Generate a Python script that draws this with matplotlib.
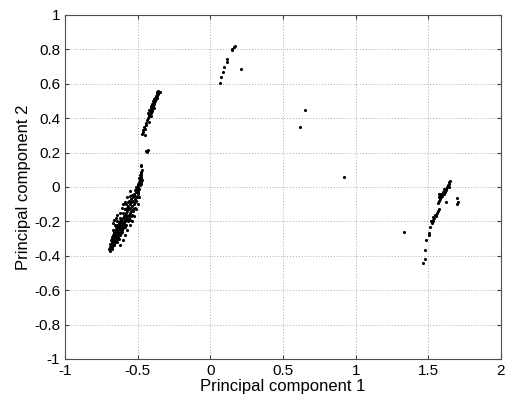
import matplotlib
matplotlib.use("Agg")
import matplotlib.pyplot as plt
import numpy as np

# ---- data ----
cluster_left_low = [
    (-0.69, -0.37), (-0.695, -0.36), (-0.68, -0.36), (-0.69, -0.35), (-0.675, -0.35),
    (-0.685, -0.34), (-0.67, -0.34), (-0.66, -0.34), (-0.69, -0.33), (-0.675, -0.33),
    (-0.665, -0.33), (-0.68, -0.32), (-0.67, -0.32), (-0.655, -0.32), (-0.645, -0.32),
    (-0.685, -0.31), (-0.665, -0.31), (-0.65, -0.31), (-0.675, -0.30), (-0.66, -0.30),
    (-0.64, -0.30), (-0.63, -0.30), (-0.68, -0.29), (-0.665, -0.29), (-0.65, -0.29),
    (-0.635, -0.29), (-0.67, -0.28), (-0.655, -0.28), (-0.64, -0.28), (-0.62, -0.28),
    (-0.66, -0.27), (-0.645, -0.27), (-0.63, -0.27), (-0.615, -0.27), (-0.665, -0.26),
    (-0.65, -0.26), (-0.635, -0.26), (-0.62, -0.26), (-0.605, -0.26), (-0.655, -0.25),
    (-0.64, -0.25), (-0.625, -0.25), (-0.61, -0.25), (-0.645, -0.24), (-0.63, -0.24),
    (-0.615, -0.24), (-0.60, -0.24), (-0.65, -0.23), (-0.635, -0.23), (-0.62, -0.23),
    (-0.605, -0.23), (-0.59, -0.23), (-0.64, -0.22), (-0.625, -0.22), (-0.60, -0.22),
    (-0.58, -0.22), (-0.63, -0.21), (-0.61, -0.21), (-0.595, -0.21), (-0.625, -0.20),
    (-0.605, -0.20), (-0.585, -0.20), (-0.565, -0.20), (-0.615, -0.19), (-0.59, -0.19),
    (-0.57, -0.19), (-0.55, -0.19), (-0.60, -0.18), (-0.58, -0.18), (-0.56, -0.18),
    (-0.595, -0.17), (-0.575, -0.17), (-0.545, -0.17), (-0.585, -0.16), (-0.56, -0.16),
    (-0.54, -0.16), (-0.58, -0.15), (-0.555, -0.15), (-0.57, -0.14), (-0.545, -0.14),
    (-0.53, -0.14), (-0.59, -0.13), (-0.56, -0.13), (-0.535, -0.13), (-0.575, -0.12),
    (-0.55, -0.12), (-0.52, -0.12), (-0.565, -0.11), (-0.54, -0.11), (-0.58, -0.10),
    (-0.555, -0.10), (-0.525, -0.10), (-0.545, -0.09), (-0.515, -0.09), (-0.56, -0.08),
    (-0.535, -0.08), (-0.51, -0.08), (-0.545, -0.07), (-0.52, -0.07), (-0.53, -0.06),
    (-0.505, -0.06), (-0.555, -0.05), (-0.515, -0.05), (-0.525, -0.04), (-0.50, -0.04),
    (-0.51, -0.03), (-0.495, -0.03), (-0.52, -0.02), (-0.50, -0.02), (-0.505, -0.01),
    (-0.49, -0.01), (-0.51, 0.00), (-0.495, 0.00), (-0.50, 0.01), (-0.485, 0.01),
    (-0.495, 0.02), (-0.48, 0.02), (-0.49, 0.03), (-0.475, 0.03), (-0.485, 0.04),
    (-0.47, 0.04), (-0.49, 0.05), (-0.475, 0.05), (-0.48, 0.06), (-0.475, 0.07),
    (-0.485, 0.07), (-0.48, 0.08), (-0.475, 0.09), (-0.47, 0.10), (-0.48, 0.12),
    (-0.475, 0.13),
    (-0.67, -0.21), (-0.66, -0.19), (-0.65, -0.18), (-0.64, -0.16), (-0.625, -0.15),
    (-0.61, -0.12), (-0.60, -0.10), (-0.585, -0.085), (-0.57, -0.06), (-0.555, -0.025),
    (-0.54, -0.20), (-0.55, -0.22), (-0.57, -0.25), (-0.585, -0.28), (-0.60, -0.31),
    (-0.62, -0.335), (-0.525, -0.17), (-0.51, -0.13), (-0.50, -0.10), (-0.49, -0.06),
    (-0.62, -0.18), (-0.60, -0.15), (-0.585, -0.13), (-0.565, -0.09), (-0.54, -0.045),
    (-0.67, -0.25), (-0.655, -0.22), (-0.645, -0.20),
]

cluster_left_high = [
    (-0.47, 0.31), (-0.465, 0.33), (-0.46, 0.32), (-0.455, 0.35), (-0.45, 0.34),
    (-0.445, 0.37), (-0.44, 0.36), (-0.435, 0.39), (-0.43, 0.40), (-0.425, 0.41),
    (-0.43, 0.43), (-0.42, 0.42), (-0.415, 0.44), (-0.42, 0.45), (-0.41, 0.43),
    (-0.405, 0.46), (-0.41, 0.47), (-0.40, 0.45), (-0.40, 0.48), (-0.395, 0.47),
    (-0.39, 0.49), (-0.395, 0.50), (-0.385, 0.48), (-0.385, 0.51), (-0.38, 0.50),
    (-0.38, 0.52), (-0.375, 0.51), (-0.375, 0.53), (-0.37, 0.52), (-0.37, 0.54),
    (-0.365, 0.53), (-0.365, 0.55), (-0.36, 0.56), (-0.355, 0.55), (-0.36, 0.54),
    (-0.347, 0.55), (-0.39, 0.46), (-0.40, 0.44), (-0.41, 0.41), (-0.42, 0.38),
    (-0.45, 0.30), (-0.44, 0.21), (-0.435, 0.205), (-0.43, 0.215),
]

cluster_middle = [
    (0.172, 0.822), (0.162, 0.816), (0.151, 0.800), (0.147, 0.797), (0.114, 0.742),
    (0.117, 0.729), (0.094, 0.696), (0.089, 0.670), (0.076, 0.638), (0.064, 0.606),
    (0.209, 0.686),
]

isolated = [
    (0.654, 0.448), (0.617, 0.350), (0.917, 0.056), (1.33, -0.26),
]

cluster_right = [
    (1.647, 0.037), (1.645, 0.03), (1.64, 0.02), (1.635, 0.01), (1.64, 0.00),
    (1.63, 0.00), (1.625, -0.01), (1.62, -0.02), (1.61, -0.01), (1.615, -0.03),
    (1.60, -0.03), (1.605, -0.04), (1.595, -0.05), (1.59, -0.04), (1.585, -0.06),
    (1.58, -0.05), (1.575, -0.04), (1.57, -0.06), (1.58, -0.07), (1.575, -0.08),
    (1.566, -0.095), (1.624, -0.089), (1.70, -0.066), (1.702, -0.085), (1.70, -0.099),
    (1.57, -0.13), (1.565, -0.14), (1.56, -0.15), (1.555, -0.16), (1.55, -0.17),
    (1.545, -0.165), (1.54, -0.18), (1.535, -0.175), (1.53, -0.19), (1.535, -0.20),
    (1.525, -0.21), (1.52, -0.20), (1.514, -0.23), (1.502, -0.28), (1.505, -0.27),
    (1.487, -0.31), (1.475, -0.366), (1.48, -0.42), (1.463, -0.44),
]

xticks = [-1, -0.5, 0, 0.5, 1, 1.5, 2]
yticks = [-1, -0.8, -0.6, -0.4, -0.2, 0, 0.2, 0.4, 0.6, 0.8, 1]
xlabels = ["-1", "-0.5", "0", "0.5", "1", "1.5", "2"]
ylabels = ["-1", "-0.8", "-0.6", "-0.4", "-0.2", "0", "0.2", "0.4", "0.6", "0.8", "1"]

plt.rcParams['font.family'] = ['Liberation Sans', 'DejaVu Sans']

fig = plt.figure(figsize=(5.05, 3.97), dpi=100)
ax = fig.add_axes([65 / 505, (397 - 359) / 397, 436 / 505, 344 / 397])

for cl in (cluster_left_low, cluster_left_high, cluster_middle, isolated, cluster_right):
    arr = np.array(cl)
    ax.scatter(arr[:, 0], arr[:, 1], s=5, c='black', marker='o', linewidths=0, zorder=3)

ax.set_xlim(-1, 2)
ax.set_ylim(-1, 1)
ax.set_xticks(xticks)
ax.set_xticklabels(xlabels)
ax.set_yticks(yticks)
ax.set_yticklabels(ylabels)
ax.grid(True, linestyle=(0, (1, 2)), color='#aaaaaa', linewidth=0.7)
ax.tick_params(direction='in', top=True, right=True, length=3, labelsize=11, color='#404040')
for sp in ax.spines.values():
    sp.set_color('#505050')
    sp.set_linewidth(0.8)
ax.set_xlabel('Principal component 1', fontsize=12, labelpad=1)
ax.set_ylabel('Principal component 2', fontsize=12, labelpad=2)

fig.savefig('out.png', dpi=100)
